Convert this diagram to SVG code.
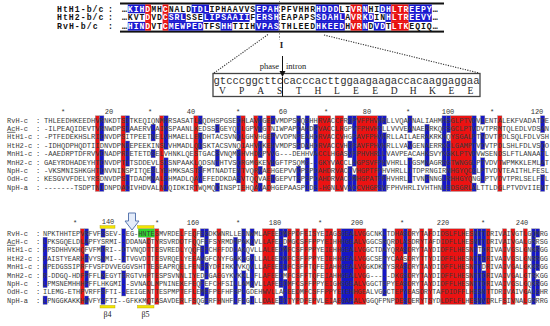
<svg xmlns="http://www.w3.org/2000/svg" width="550" height="326" viewBox="0 0 550 326">
<style>
.sq{font-family:"Liberation Mono",monospace;font-size:7.133px;fill:#3a3a3a}
.sq2{font-family:"Liberation Mono",monospace;font-size:6.9px;fill:#3a3a3a}
.lab{font-family:"Liberation Mono",monospace;font-size:7px;fill:#3a3a3a}
.rul{font-family:"Liberation Mono",monospace;font-size:7px;fill:#333;text-anchor:middle}
.r{fill:#ec1212;stroke:#8c8c8c;stroke-width:0.4}
.b{fill:#1616c8;stroke:#8c8c8c;stroke-width:0.4}
.tr{fill:#e81010}
.tb{fill:#1a1ad0}
.top{font-family:"Liberation Mono",monospace;font-size:8.2px;font-weight:bold;fill:#111}
.w{fill:#fff}
.ser{font-family:"Liberation Serif",serif;fill:#222}
.dot{stroke:#333;stroke-width:1.1;stroke-dasharray:1.2 1.3;fill:none}
.yb{fill:#f2e400;stroke:#b0a000;stroke-width:0.4}
</style>

<!-- top block -->
<g id="top-block">
<rect x="120" y="2.5" width="324" height="2" fill="#111"/>
<rect x="120" y="30.6" width="324" height="2" fill="#111"/>
<g>
<rect class="tb" x="127.8" y="4.5" width="17.4" height="8.7"/><rect class="tr" x="145.2" y="4.5" width="5.8" height="8.7"/><rect class="tr" x="162.6" y="4.5" width="5.8" height="8.7"/><rect class="tb" x="191.6" y="4.5" width="17.4" height="8.7"/><rect class="tb" x="255.4" y="4.5" width="23.2" height="8.7"/>
<rect class="tr" x="145.2" y="13.2" width="5.8" height="8.7"/><rect class="tr" x="162.6" y="13.2" width="5.8" height="8.7"/><rect class="tb" x="168.4" y="13.2" width="17.4" height="8.7"/><rect class="tb" x="203.2" y="13.2" width="46.4" height="8.7"/><rect class="tb" x="255.4" y="13.2" width="23.2" height="8.7"/>
<rect class="tb" x="127.8" y="21.9" width="17.4" height="8.7"/><rect class="tr" x="145.2" y="21.9" width="5.8" height="8.7"/><rect class="tr" x="162.6" y="21.9" width="5.8" height="8.7"/><rect class="tb" x="168.4" y="21.9" width="34.8" height="8.7"/><rect class="tb" x="220.6" y="21.9" width="11.6" height="8.7"/><rect class="tb" x="255.4" y="21.9" width="23.2" height="8.7"/>
<rect class="tb" x="315.8" y="4.5" width="23.2" height="8.7"/><rect class="tr" x="350.6" y="4.5" width="11.6" height="8.7"/><rect class="tb" x="362.2" y="4.5" width="5.8" height="8.7"/><rect class="tb" x="379.6" y="4.5" width="11.6" height="8.7"/><rect class="tr" x="391.2" y="4.5" width="17.4" height="8.7"/><rect class="tb" x="408.6" y="4.5" width="23.2" height="8.7"/>
<rect class="tb" x="315.8" y="13.2" width="29" height="8.7"/><rect class="tr" x="350.6" y="13.2" width="11.6" height="8.7"/><rect class="tb" x="362.2" y="13.2" width="11.6" height="8.7"/><rect class="tb" x="385.4" y="13.2" width="5.8" height="8.7"/><rect class="tr" x="391.2" y="13.2" width="17.4" height="8.7"/><rect class="tb" x="408.6" y="13.2" width="23.2" height="8.7"/>
<rect class="tb" x="315.8" y="21.9" width="29" height="8.7"/><rect class="tr" x="350.6" y="21.9" width="11.6" height="8.7"/><rect class="tb" x="362.2" y="21.9" width="5.8" height="8.7"/><rect class="tb" x="373.8" y="21.9" width="11.6" height="8.7"/><rect class="tr" x="391.2" y="21.9" width="17.4" height="8.7"/>
</g>
<text class="top" x="57" y="11.7" textLength="46.4" lengthAdjust="spacing">HtH1-b/c</text>
<text class="top" x="57" y="20.4" textLength="46.4" lengthAdjust="spacing">HtH2-b/c</text>
<text class="top" x="57" y="29.1" textLength="40.6" lengthAdjust="spacing">RvH-b/c</text>
<text class="top" x="108" y="11.7">:</text>
<text class="top" x="108" y="20.4">:</text>
<text class="top" x="108" y="29.1">:</text>
<text class="top" x="122" y="11.7" textLength="156.6" lengthAdjust="spacing">…<tspan class="w">KIHD</tspan>MH<tspan class="w">C</tspan>NALD<tspan class="w">TDL</tspan>IPHAAVVS<tspan class="w">EPAH</tspan></text>
<text class="top" x="122" y="20.4" textLength="156.6" lengthAdjust="spacing">…KVT<tspan class="w">D</tspan>VD<tspan class="w">CSRL</tspan>SSE<tspan class="w">LIPSAAII</tspan>F<tspan class="w">ERSH</tspan></text>
<text class="top" x="122" y="29.1" textLength="156.6" lengthAdjust="spacing">…<tspan class="w">HIND</tspan>VT<tspan class="w">CMEWPED</tspan>TFS<tspan class="w">HH</tspan>TIIH<tspan class="w">VPAS</tspan></text>
<text class="top" x="281" y="11.7" textLength="156.6" lengthAdjust="spacing">PFVHHR<tspan class="w">HDDD</tspan>LI<tspan class="w">VRN</tspan>HI<tspan class="w">DHLTREEPY</tspan>…</text>
<text class="top" x="281" y="20.4" textLength="156.6" lengthAdjust="spacing">EAPAPS<tspan class="w">SDAHL</tspan>A<tspan class="w">VRKD</tspan>IN<tspan class="w">HLTREEVY</tspan>…</text>
<text class="top" x="281" y="29.1" textLength="156.6" lengthAdjust="spacing">THLEED<tspan class="w">HKEED</tspan>H<tspan class="w">VRN</tspan>D<tspan class="w">VD</tspan>T<tspan class="w">LTK</tspan>EQIQ…</text>
<line x1="279.5" y1="1" x2="279.5" y2="40" stroke="#777" stroke-width="0.8" stroke-dasharray="2 1.5"/>
<text class="ser" x="281.5" y="48" font-size="9" font-weight="bold" text-anchor="middle">I</text>
</g>

<!-- exon/intron box -->
<g id="intron-box">
<rect x="213" y="73.5" width="267" height="23" fill="#fff" stroke="#444" stroke-width="1.3"/>
<text x="213.5" y="83.6" textLength="266" lengthAdjust="spacing" style="font-family:'Liberation Mono',monospace;font-size:10.6px;fill:#333">gtcccggcttccacccacttggaagaagaccacaaggaggaa</text>
<text class="ser" y="94" font-size="9.5" text-anchor="middle" x="222.5 241.6 260.7 279.7 298.8 317.9 337 356 375.1 394.2 413.3 432.4 451.4 470.5">VPASTHLEEDHKEE</text>
<text class="ser" x="279" y="68.5" font-size="8.5" text-anchor="end">phase</text>
<text class="ser" x="286" y="68.5" font-size="8.5">intron</text>
</g>

<g id="connectors">
<line class="dot" x1="214" y1="73" x2="268" y2="34.5"/>
<line class="dot" x1="324" y1="35" x2="479" y2="73"/>
<line x1="282.5" y1="56" x2="282.5" y2="72" stroke="#111" stroke-width="1"/>
<polygon points="279.5,71 285.5,71 282.5,77" fill="#111"/>
<line x1="282.5" y1="77" x2="282.5" y2="96.5" stroke="#111" stroke-width="1"/>
</g>

<!-- alignment block 1 -->
<g id="block1">
<g id="b1-red">
<rect class="r" x="95.36" y="115.8" width="4.28" height="75.6"/>
<rect class="r" x="121.04" y="115.8" width="4.28" height="75.6"/>
<rect class="r" x="159.56" y="115.8" width="4.28" height="75.6"/>
<rect class="r" x="193.8" y="115.8" width="4.28" height="75.6"/>
<rect class="r" x="240.88" y="115.8" width="4.28" height="75.6"/>
<rect class="r" x="253.72" y="115.8" width="4.28" height="75.6"/>
<rect class="r" x="266.56" y="115.8" width="4.28" height="75.6"/>
<rect class="r" x="317.92" y="115.8" width="12.84" height="75.6"/>
<rect class="r" x="335.04" y="115.8" width="8.56" height="75.6"/>
<rect class="r" x="356.44" y="115.8" width="21.4" height="75.6"/>
<rect class="r" x="450.6" y="115.8" width="21.4" height="75.6"/>
<rect class="r" x="497.68" y="115.8" width="4.28" height="75.6"/>
</g>
<g id="b1-blue">
<rect class="b" x="99.64" y="115.8" width="4.28" height="25.2"/><rect class="b" x="99.64" y="149.4" width="4.28" height="25.2"/><rect class="b" x="99.64" y="183" width="4.28" height="8.4"/>
<rect class="b" x="125.32" y="115.8" width="4.28" height="16.8"/><rect class="b" x="125.32" y="141" width="4.28" height="25.2"/><rect class="b" x="125.32" y="174.6" width="4.28" height="16.8"/>
<rect class="b" x="151" y="124.2" width="4.28" height="16.8"/><rect class="b" x="151" y="149.4" width="4.28" height="8.4"/><rect class="b" x="151" y="166.2" width="4.28" height="16.8"/>
<rect class="b" x="163.84" y="115.8" width="4.28" height="33.6"/><rect class="b" x="163.84" y="157.8" width="4.28" height="33.6"/>
<rect class="b" x="198.08" y="115.8" width="4.28" height="8.4"/><rect class="b" x="198.08" y="132.6" width="4.28" height="16.8"/><rect class="b" x="198.08" y="166.2" width="4.28" height="16.8"/>
<rect class="b" x="215.2" y="124.2" width="4.28" height="8.4"/><rect class="b" x="215.2" y="149.4" width="4.28" height="16.8"/><rect class="b" x="215.2" y="183" width="4.28" height="8.4"/>
<rect class="b" x="236.6" y="115.8" width="4.28" height="25.2"/><rect class="b" x="236.6" y="149.4" width="4.28" height="33.6"/>
<rect class="b" x="258" y="115.8" width="4.28" height="16.8"/><rect class="b" x="258" y="141" width="4.28" height="16.8"/><rect class="b" x="258" y="166.2" width="4.28" height="8.4"/><rect class="b" x="258" y="183" width="4.28" height="8.4"/>
<rect class="b" x="270.84" y="115.8" width="4.28" height="8.4"/><rect class="b" x="270.84" y="132.6" width="4.28" height="33.6"/><rect class="b" x="270.84" y="174.6" width="4.28" height="8.4"/>
<rect class="b" x="296.52" y="115.8" width="4.28" height="33.6"/><rect class="b" x="296.52" y="166.2" width="4.28" height="16.8"/>
<rect class="b" x="305.08" y="115.8" width="4.28" height="33.6"/><rect class="b" x="305.08" y="157.8" width="4.28" height="33.6"/>
<rect class="b" x="313.64" y="124.2" width="4.28" height="67.2"/>
<rect class="b" x="347.88" y="115.8" width="4.28" height="8.4"/><rect class="b" x="347.88" y="141" width="4.28" height="16.8"/><rect class="b" x="347.88" y="166.2" width="4.28" height="25.2"/>
<rect class="b" x="352.16" y="115.8" width="4.28" height="50.4"/><rect class="b" x="352.16" y="174.6" width="4.28" height="16.8"/>
<rect class="b" x="377.84" y="115.8" width="4.28" height="75.6"/>
<rect class="b" x="382.12" y="115.8" width="4.28" height="8.4"/><rect class="b" x="382.12" y="132.6" width="4.28" height="33.6"/><rect class="b" x="382.12" y="174.6" width="4.28" height="16.8"/>
<rect class="b" x="407.8" y="115.8" width="4.28" height="16.8"/><rect class="b" x="407.8" y="141" width="4.28" height="8.4"/><rect class="b" x="407.8" y="157.8" width="4.28" height="25.2"/>
<rect class="b" x="424.92" y="124.2" width="4.28" height="42"/><rect class="b" x="424.92" y="174.6" width="4.28" height="8.4"/>
<rect class="b" x="442.04" y="115.8" width="4.28" height="50.4"/><rect class="b" x="442.04" y="174.6" width="4.28" height="16.8"/>
<rect class="b" x="446.32" y="115.8" width="4.28" height="16.8"/><rect class="b" x="446.32" y="141" width="4.28" height="50.4"/>
<rect class="b" x="472" y="115.8" width="4.28" height="58.8"/><rect class="b" x="472" y="183" width="4.28" height="8.4"/>
<rect class="b" x="480.56" y="115.8" width="4.28" height="8.4"/><rect class="b" x="480.56" y="132.6" width="4.28" height="16.8"/><rect class="b" x="480.56" y="157.8" width="4.28" height="25.2"/>
<rect class="b" x="540.48" y="115.8" width="4.28" height="16.8"/><rect class="b" x="540.48" y="141" width="4.28" height="25.2"/><rect class="b" x="540.48" y="174.6" width="4.28" height="16.8"/>
</g>
<g id="b1-ruler">
<text class="rul" x="63" y="113.5">*</text><text class="rul" x="109" y="113.5">20</text>
<text class="rul" x="150" y="113.5">*</text><text class="rul" x="191" y="113.5">40</text>
<text class="rul" x="238" y="113.5">*</text><text class="rul" x="283" y="113.5">60</text>
<text class="rul" x="326" y="113.5">*</text><text class="rul" x="367" y="113.5">80</text>
<text class="rul" x="408" y="113.5">*</text><text class="rul" x="448" y="113.5">100</text>
<text class="rul" x="492" y="113.5">*</text><text class="rul" x="537" y="113.5">120</text>
</g>
<g id="b1-labels">
<text class="lab" x="7" y="122.5">RvH-c</text>
<text class="lab" x="7" y="130.9"><tspan text-decoration="underline">Ac</tspan>H-c</text>
<text class="lab" x="7" y="139.3">HtH1-c</text>
<text class="lab" x="7" y="147.7">HtH2-c</text>
<text class="lab" x="7" y="156.1">MnH1-c</text>
<text class="lab" x="7" y="164.5">MnH2-c</text>
<text class="lab" x="7" y="172.9">NpH-c</text>
<text class="lab" x="7" y="181.3">OdH-c</text>
<text class="lab" x="7" y="189.7">NpH-a</text>
<text class="lab" x="36" y="122.5">:</text><text class="lab" x="36" y="130.9">:</text><text class="lab" x="36" y="139.3">:</text><text class="lab" x="36" y="147.7">:</text><text class="lab" x="36" y="156.1">:</text><text class="lab" x="36" y="164.5">:</text><text class="lab" x="36" y="172.9">:</text><text class="lab" x="36" y="181.3">:</text><text class="lab" x="36" y="189.7">:</text>
</g>
<g id="b1-seqs">
<text class="sq" x="44" y="122.5" textLength="505" lengthAdjust="spacing">THLEEDHKEEDHVRNKDTSITKEQIQNMHRSASATLKQDHSPGSEDHLAVHGEPVMDPSMQSHHRVACCFRGPVFPHVHRLLVQAPNALIAHMHSGLPTVDVLENTALEKFVADATDE</text>
<text class="sq" x="44" y="130.9" textLength="505" lengthAdjust="spacing">-ILPEAQIDEVTVRNWDPSIAAERVLAIMSPAANLKEDSSIGEYQTLGPVNGTNIWPAPDAHDRVACCLRGPVFPHVHRLLVVVEANAERRKQFSGCLPTVDVTPRMTQLEDLVDSAN</text>
<text class="sq" x="44" y="139.3" textLength="505" lengthAdjust="spacing">-PTFEDEKHSLRIDNVDPSITPEETNELVHMAELLENDHTACSVNQLGHVHGEPVVDPNPEAHDRVACCVHGPAVFPHVHRLLAILAERAKRKHQYSGALPTVDVTPDLSQLFDLVSH</text>
<text class="sq" x="44" y="147.7" textLength="505" lengthAdjust="spacing">-IDHQDPHQDTIIDNVDPNIEPEEKINSLVHMADLQDSKTACSVNQIAHVHKEHVMDPSPDAHDRVACCVHGPAVFPHVHRLLVAVGENAERRKCLGAMPTVDVTPDLSHLFDLVSQO</text>
<text class="sq" x="44" y="156.1" textLength="505" lengthAdjust="spacing">-AAEDRPTDFRVVDNADPRIETETDSELVHNKLQESTGACSVNQMGHVHDKPVVG---DEHHVACCLHGASVFPHVHRLLVAVPEACAHKSVYKGKLPTVDVWSENDSLFTLANAATL</text>
<text class="sq" x="44" y="164.5" textLength="505" lengthAdjust="spacing">GAEYRDHADEYHTDNVDPTITSDDEVLSISNPAAKLQDSNTHTVSQRGMGKEVHGFTPSQMG--GKYVACCLHGPSVFPHVHRLLTGSMNAGRRGTWNGGLPTVDVTWPMKKLEMLAT</text>
<text class="sq" x="44" y="172.9" textLength="505" lengthAdjust="spacing">-VKSMNISHKGHTDNVNINSPITQESLYEHMKSASTSFMTNADTENTVQRVAEHGEPVVDPSPDAHDRVACCVHGPTFPHVHRLLITDPRNGIRNHGYQCGLPTVDVTEAITHLFESL</text>
<text class="sq" x="44" y="181.3" textLength="505" lengthAdjust="spacing">KESGVVFDELYRSDNVDPSLTDADMNALSHMADLQAYEFEDDKDASVTQQVAEHGEPVTSPSPDAHDRVACCMHGPATFPHVHRLLTVNPNNGLRHHGYQNGLPTVDVTPRLSELFTL</text>
<text class="sq" x="44" y="189.7" textLength="505" lengthAdjust="spacing">-------TSDPTNIDNPDADIVHDVALNIQIDKIRTWQMQDINSPIEHQAVADHGEPAASPIDS-HGNLVVACCVHGPSVFPHVHRLIVHTHNLEDSGRLALTTLDGLPTVDVIIENT</text>
</g>
</g>

<!-- alignment block 2 -->
<g id="block2">
<g id="b2-red">
<rect class="r" x="80.26" y="228.8" width="4.14" height="75.6"/>
<rect class="r" x="146.5" y="237.2" width="4.14" height="67.2"/>
<rect class="r" x="154.78" y="228.8" width="4.14" height="75.6"/>
<rect class="r" x="179.62" y="228.8" width="4.14" height="75.6"/>
<rect class="r" x="192.04" y="228.8" width="4.14" height="75.6"/>
<rect class="r" x="216.88" y="228.8" width="4.14" height="75.6"/>
<rect class="r" x="262.42" y="228.8" width="12.42" height="75.6"/>
<rect class="r" x="287.26" y="228.8" width="4.14" height="75.6"/>
<rect class="r" x="295.54" y="228.8" width="4.14" height="75.6"/>
<rect class="r" x="303.82" y="228.8" width="4.14" height="75.6"/>
<rect class="r" x="312.1" y="228.8" width="4.14" height="75.6"/>
<rect class="r" x="324.52" y="228.8" width="8.28" height="75.6"/>
<rect class="r" x="336.94" y="228.8" width="4.14" height="75.6"/>
<rect class="r" x="353.5" y="228.8" width="12.42" height="75.6"/>
<rect class="r" x="394.9" y="228.8" width="8.28" height="75.6"/>
<rect class="r" x="407.32" y="228.8" width="4.14" height="75.6"/>
<rect class="r" x="419.74" y="228.8" width="4.14" height="75.6"/>
<rect class="r" x="428.02" y="228.8" width="4.14" height="75.6"/>
<rect class="r" x="440.44" y="228.8" width="24.84" height="75.6"/>
<rect class="r" x="469.42" y="228.8" width="4.14" height="75.6"/>
<rect class="r" x="485.98" y="228.8" width="4.14" height="75.6"/>
<rect class="r" x="502.54" y="228.8" width="4.14" height="75.6"/>
<rect class="r" x="510.82" y="228.8" width="4.14" height="75.6"/>
<rect class="r" x="523.24" y="228.8" width="4.14" height="75.6"/>
</g>
<rect id="b2-green" x="138.22" y="228.8" width="16.56" height="8.4" fill="#2fd82f" stroke="#8c8c8c" stroke-width="0.4"/>
<g id="b2-blue">
<rect class="b" x="43" y="237.2" width="4.14" height="50.4"/><rect class="b" x="43" y="296" width="4.14" height="8.4"/>
<rect class="b" x="84.4" y="228.8" width="4.14" height="16.8"/><rect class="b" x="84.4" y="254" width="4.14" height="8.4"/><rect class="b" x="84.4" y="270.8" width="4.14" height="16.8"/><rect class="b" x="84.4" y="296" width="4.14" height="8.4"/>
<rect class="b" x="100.96" y="228.8" width="4.14" height="8.4"/><rect class="b" x="100.96" y="245.6" width="4.14" height="16.8"/><rect class="b" x="100.96" y="270.8" width="4.14" height="8.4"/><rect class="b" x="100.96" y="287.6" width="4.14" height="16.8"/>
<rect class="b" x="121.66" y="228.8" width="4.14" height="33.6"/><rect class="b" x="121.66" y="270.8" width="4.14" height="25.2"/>
<rect class="b" x="200.32" y="228.8" width="4.14" height="8.4"/><rect class="b" x="200.32" y="245.6" width="4.14" height="25.2"/><rect class="b" x="200.32" y="279.2" width="4.14" height="16.8"/>
<rect class="b" x="204.46" y="228.8" width="4.14" height="25.2"/><rect class="b" x="204.46" y="262.4" width="4.14" height="16.8"/><rect class="b" x="204.46" y="287.6" width="4.14" height="16.8"/>
<rect class="b" x="233.44" y="237.2" width="4.14" height="67.2"/>
<rect class="b" x="241.72" y="228.8" width="4.14" height="33.6"/><rect class="b" x="241.72" y="270.8" width="4.14" height="33.6"/>
<rect class="b" x="250" y="228.8" width="4.14" height="16.8"/><rect class="b" x="250" y="254" width="4.14" height="33.6"/><rect class="b" x="250" y="296" width="4.14" height="8.4"/>
<rect class="b" x="278.98" y="228.8" width="4.14" height="58.8"/><rect class="b" x="278.98" y="296" width="4.14" height="8.4"/>
<rect class="b" x="283.12" y="228.8" width="4.14" height="8.4"/><rect class="b" x="283.12" y="245.6" width="4.14" height="25.2"/><rect class="b" x="283.12" y="279.2" width="4.14" height="25.2"/>
<rect class="b" x="341.08" y="228.8" width="12.42" height="75.6"/>
<rect class="b" x="382.48" y="228.8" width="4.14" height="67.2"/>
<rect class="b" x="403.18" y="228.8" width="4.14" height="25.2"/><rect class="b" x="403.18" y="262.4" width="4.14" height="42"/>
<rect class="b" x="473.56" y="228.8" width="4.14" height="75.6"/>
<rect class="b" x="477.7" y="228.8" width="4.14" height="16.8"/><rect class="b" x="477.7" y="254" width="4.14" height="50.4"/>
<rect class="b" x="481.84" y="228.8" width="4.14" height="33.6"/><rect class="b" x="481.84" y="270.8" width="4.14" height="33.6"/>
<rect class="b" x="531.52" y="228.8" width="4.14" height="75.6"/>
<rect class="b" x="535.66" y="228.8" width="4.14" height="8.4"/><rect class="b" x="535.66" y="245.6" width="4.14" height="25.2"/><rect class="b" x="535.66" y="279.2" width="4.14" height="16.8"/>
</g>
<g id="b2-ruler">
<text class="rul" x="75" y="224.5">*</text><text class="rul" x="108" y="223.5">140</text>
<text class="rul" x="157" y="224.5">*</text><text class="rul" x="193" y="224.5">160</text>
<text class="rul" x="238" y="224.5">*</text><text class="rul" x="275" y="224.5">180</text>
<text class="rul" x="320" y="224.5">*</text><text class="rul" x="357" y="224.5">200</text>
<text class="rul" x="402" y="224.5">*</text><text class="rul" x="443" y="224.5">220</text>
<text class="rul" x="483" y="224.5">*</text><text class="rul" x="522" y="224.5">240</text>
</g>
<g id="b2-sse">
<rect class="yb" x="100" y="225.6" width="15" height="2.6"/>
<rect class="yb" x="137.5" y="225.6" width="16.5" height="2.6"/>
<rect class="yb" x="100" y="305.4" width="15" height="2.6"/>
<rect class="yb" x="137.5" y="305.4" width="16.5" height="2.6"/>
<text class="ser" x="107.5" y="316.5" font-size="8" text-anchor="middle">β4</text>
<text class="ser" x="145.5" y="316.5" font-size="8" text-anchor="middle">β5</text>
<polygon points="128.5,213 135.5,213 135.5,221 139,221 132,230 125,221 128.5,221" fill="#e4ecfa" stroke="#5a78b0" stroke-width="1"/>
</g>
<g id="b2-labels">
<text class="lab" x="7" y="235.5">RvH-c</text>
<text class="lab" x="7" y="243.9"><tspan text-decoration="underline">Ac</tspan>H-c</text>
<text class="lab" x="7" y="252.3">HtH1-c</text>
<text class="lab" x="7" y="260.7">HtH2-c</text>
<text class="lab" x="7" y="269.1">MnH1-c</text>
<text class="lab" x="7" y="277.5">MnH2-c</text>
<text class="lab" x="7" y="285.9">NpH-c</text>
<text class="lab" x="7" y="294.3">OdH-c</text>
<text class="lab" x="7" y="302.7">NpH-a</text>
<text class="lab" x="36" y="235.5">:</text><text class="lab" x="36" y="243.9">:</text><text class="lab" x="36" y="252.3">:</text><text class="lab" x="36" y="260.7">:</text><text class="lab" x="36" y="269.1">:</text><text class="lab" x="36" y="277.5">:</text><text class="lab" x="36" y="285.9">:</text><text class="lab" x="36" y="294.3">:</text><text class="lab" x="36" y="302.7">:</text>
</g>
<g id="b2-seqs">
<text class="sq2" x="43" y="235.5" textLength="505" lengthAdjust="spacing">NPKTHHTEPVRFVFSSEV--EG-HNTESMVRDELFEQFEGDKWNRLLEENWMLAFEEDMFPDFEISYEIAGSGEALVGGCNKLTDHASDRYTAFDIDSLFLHESNTTDRIVAIVGTLGQMRG</text>
<text class="sq2" x="43" y="243.9" textLength="505" lengthAdjust="spacing">LPKSGQELDLAPFYSRMI--DDANADTYRSVRDDTFQQFEFSYRMDHPAKQVLLAFEEDMGCSFFPPYEIHHHGEALVGGCSRQRDLASDRYTAFDIDFLLHESNTTDRIVAIVGALGRRSG</text>
<text class="sq2" x="43" y="252.3" textLength="505" lengthAdjust="spacing">FPSDHHVKHQFVFMDRI--DTVNQDTTESVREDLYQQFEFCHFFDDIAKQVLLALEEDMFCSFFPPYEIEHHGEALVGGCTDAYQRASDRYTAYDIDFFLHESNTTDRIVAIVGSLGNKRGG</text>
<text class="sq2" x="43" y="260.7" textLength="505" lengthAdjust="spacing">FAISTYEARHFVYSNMI--ITVGVDTTESVRQELYEEAWGFCNYFGAKGGVLLALEEDMFCSFFPPYEIEHHGEALVGGCSEPYCAASDRYTTYDIDFFLHESNTTDRIVAIVGSLGNRRGG</text>
<text class="sq2" x="43" y="269.1" textLength="505" lengthAdjust="spacing">HPEDGSSIPRFFVSFDVVEGGVSHTTESEAPRQELFENFGYDFIRKVVKQVLLAFEEEDFCSFFTQFEIAHHGEALVGGKDKEYSRASDRYTAYDIDFFLHESNTTDRIVAIVGALGKKRGG</text>
<text class="sq2" x="43" y="277.5" textLength="505" lengthAdjust="spacing">R-DDGQ-HDFPFFLKEGYTERGTVHPTESPSVNNLIYEDFGAEGYKVKKLLFLAFEEDMFCSFFTQFEIAHHGEALVGG-----DKGSDRYTAYDIDFFLHESNTTDRIVAIVGALGTRKGG</text>
<text class="sq2" x="43" y="285.9" textLength="505" lengthAdjust="spacing">LPMSNEMHHHPFFLHKGMI--SVNADLMPNINEKEFEQFEFCHFSILLAMQVLLAFEEDMFCSFFPPYEIGHSGEALVGGCTEPYEASDRYTAYDIDFFLHESNTTDRIVAIVGSLGQKRGG</text>
<text class="sq2" x="43" y="294.3" textLength="505" lengthAdjust="spacing">ILEMG-ETHPVRFFSFTI--EEIGENTTESPMPTEFLEMEFPEFHFSPLGDEHWVLLAFEEDMFCSFFPPYEIEHHGEALVGGCTEPYEASDRYTAFDIDFFLHESNTTDRIVAIVGALGHR</text>
<text class="sq2" x="43" y="302.7" textLength="505" lengthAdjust="spacing">LPNGGKAKKHWVFYSFTI--GFKKMQTASAVDERLFSQGERFHNHFLFEGILLDALEEDTYPDFEPVLEIAEGAFALVGGQFPNPDESDERYTSYDLDFLFLHESNVDRLFSIVNALGRRRG</text>
</g>
</g>
</svg>
